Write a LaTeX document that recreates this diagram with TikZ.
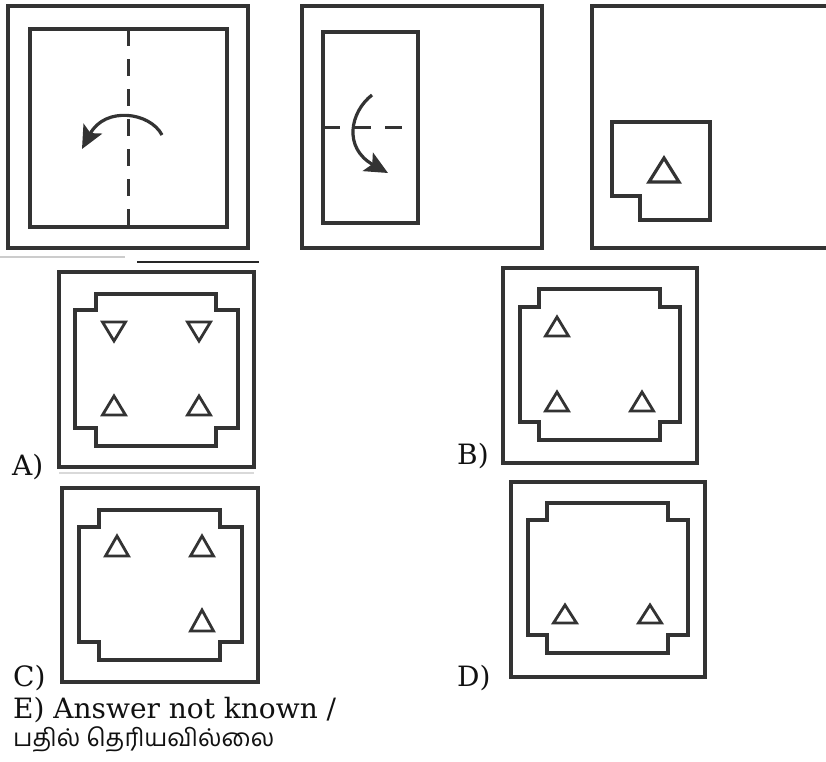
\documentclass[tikz,border=0pt]{standalone}
\usepackage{fontspec}
\setmainfont{DejaVu Serif}
\newfontfamily\tamilfont[Script=Tamil]{Hind Madurai}
\usetikzlibrary{arrows.meta}
\definecolor{lc}{HTML}{333333}
\definecolor{tc}{HTML}{111111}
\newcommand\optInner[8]{%
  \draw[innerline] (#2,#5) -- (#3,#5) -- (#3,#6) -- (#4,#6) -- (#4,#7) -- (#3,#7) -- (#3,#8) -- (#2,#8) -- (#2,#7) -- (#1,#7) -- (#1,#6) -- (#2,#6) -- cycle;}
\newcommand\upTri[3]{\draw[tri] (#1-11.5,#3) -- (#1,#2) -- (#1+11.5,#3) -- cycle;}
\newcommand\downTri[3]{\draw[tri] (#1-11.5,#2) -- (#1,#3) -- (#1+11.5,#2) -- cycle;}
\begin{document}
\begin{tikzpicture}[x=1pt,y=-1pt,
  outerbox/.style={draw=lc,line width=3.2pt},
  innerline/.style={draw=lc,line width=3.2pt,line join=miter},
  tri/.style={draw=lc,line width=2.8pt,line join=miter},
  foldline/.style={draw=lc,line width=3pt,dash pattern=on 17pt off 13pt},
  foldarrow/.style={draw=lc,line width=3.2pt,-{Stealth[length=23pt,width=21pt,inset=5pt]}},
  lab/.style={anchor=base west,inner sep=0pt,text=tc,font=\fontsize{28}{32}\selectfont}]
\useasboundingbox[fill=white] (0,0) rectangle (826,761);
% --- Panel 1
\draw[outerbox] (8,6) rectangle (248,248);
\draw[outerbox] (30,29) rectangle (227,227);
\draw[foldline] (128,29) -- (128,229);
\coordinate (p1s) at (162,135);
\coordinate (p1e) at (82,149);
\draw[foldarrow] (p1s) .. controls (150,112) and (105,106) .. (p1e);
% --- Panel 2
\draw[outerbox] (302,6) rectangle (542,248);
\draw[outerbox] (323,32) rectangle (418,223);
\draw[foldline,dash pattern=on 17pt off 14pt] (323,127) -- (403,127);
\coordinate (p2s) at (372,95);
\coordinate (p2e) at (388,173);
\draw[foldarrow] (p2s) .. controls (350,112) and (343,148) .. (p2e);
% --- Panel 3
\draw[outerbox] (827,6) -- (592,6) -- (592,248) -- (827,248);
\draw[innerline] (612,122) -- (710,122) -- (710,220) -- (640,220) -- (640,196) -- (612,196) -- cycle;
\draw[tri,line width=3.2pt] (649,182) -- (664,158) -- (679,182) -- cycle;
% scan artefacts
\draw[draw=black!20,line width=1.5pt] (0,257) -- (125,257);
\draw[draw=black!85,line width=2pt] (137,262) -- (259,262);
\draw[draw=black!15,line width=1.5pt] (59,473) -- (254,473);
% --- Option A
\draw[outerbox] (59,272) rectangle (254,467);
\optInner{75}{96}{216}{238}{294}{310}{428}{446}
\downTri{114}{322}{341}
\downTri{199}{322}{341}
\upTri{114}{396}{415}
\upTri{199}{396}{415}
\node[lab] (la) at (12,475) {A)};
% --- Option B
\draw[outerbox] (503,268) rectangle (697,463);
\optInner{520}{539}{660}{680}{289}{307}{422}{440}
\upTri{557}{317}{336}
\upTri{557}{392}{411}
\upTri{642}{392}{411}
\node[lab] (lb) at (457,464) {B)};
% --- Option C
\draw[outerbox] (62,488) rectangle (258,682);
\optInner{79}{99}{220}{242}{510}{527}{642}{660}
\upTri{117}{536}{556}
\upTri{202}{536}{556}
\upTri{202}{610}{631}
\node[lab] (lc) at (13,686) {C)};
% --- Option D
\draw[outerbox] (511,482) rectangle (705,677);
\optInner{528}{547}{668}{688}{503}{520}{635}{653}
\upTri{565}{605}{623}
\upTri{650}{605}{623}
\node[lab] (ld) at (457,686) {D)};
% --- Option E
\node[lab] (le) at (13,718) {E) Answer not known /};
\node[lab,font=\tamilfont\fontsize{24.5}{28}\selectfont] (let) at (13,746) {பதில் தெரியவில்லை};
\end{tikzpicture}
\end{document}
